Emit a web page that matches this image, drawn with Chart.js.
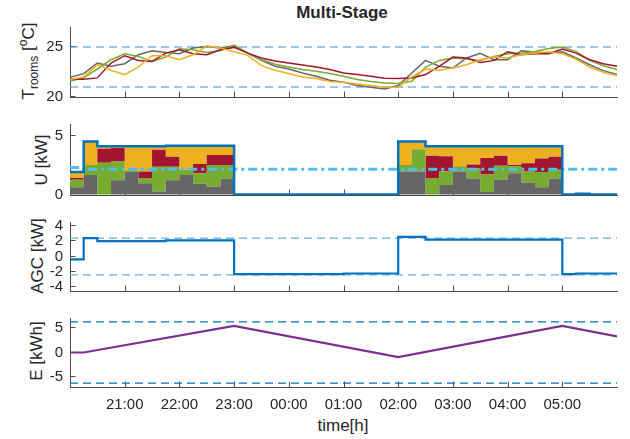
<!DOCTYPE html>
<html>
<head>
<meta charset="utf-8">
<script src="https://cdn.jsdelivr.net/npm/chart.js@4/dist/chart.umd.min.js"></script>
<style>
  html, body { margin: 0; padding: 0; background: #fff; }
  #fig { position: relative; width: 630px; height: 439px; overflow: hidden;
         font-family: "Liberation Sans", Arial, Helvetica, sans-serif; color: #262626; }
  .panel { position: absolute; left: 0; width: 630px; }
  .ylab { position: absolute; white-space: nowrap; font-size: 17px; line-height: 17px;
          transform: translate(-50%, -50%) rotate(-90deg); }
  .ylab sub, .ylab sup { font-size: 12px; line-height: 0; }
  .title { position: absolute; white-space: nowrap; font-weight: bold; font-size: 17px;
           line-height: 17px; transform: translate(-50%, -50%); }
  .xlab { position: absolute; white-space: nowrap; font-size: 17px; line-height: 17px;
          transform: translate(-50%, -50%); }
</style>
</head>
<body>
<div id="fig">
  <div class="title" style="left:342px; top:12px;">Multi-Stage</div>
  <div class="ylab" style="left:28px; top:61px;">T<sub>rooms</sub> [<sup>o</sup>C]</div>
  <div class="ylab" style="left:41px; top:160px;">U [kW]</div>
  <div class="ylab" style="left:37px; top:256px;">AGC [kW]</div>
  <div class="ylab" style="left:36px; top:351px;">E [kWh]</div>
  <div class="xlab" style="left:343px; top:425px;">time[h]</div>

  <div class="panel" style="top:22px; height:80px;"><canvas id="cTemp"></canvas></div>
  <div class="panel" style="top:119px; height:81px;"><canvas id="cU"></canvas></div>
  <div class="panel" style="top:217px; height:79px;"><canvas id="cAgc"></canvas></div>
  <div class="panel" style="top:313px; height:126px;"><canvas id="cE"></canvas></div>
</div>

<script>
// ---- time axis: hours after 20:00, one sample per 15 minutes ----
const hours = [0, 0.25, 0.5, 0.75, 1, 1.25, 1.5, 1.75, 2, 2.25, 2.5, 2.75, 3, 3.25, 3.5, 3.75,
               4, 4.25, 4.5, 4.75, 5, 5.25, 5.5, 5.75, 6, 6.25, 6.5, 6.75, 7, 7.25, 7.5, 7.75,
               8, 8.25, 8.5, 8.75, 9, 9.25, 9.5, 9.75, 10];
const hourTicks = [1, 2, 3, 4, 5, 6, 7, 8, 9];
const hourLabels = ['21:00', '22:00', '23:00', '00:00', '01:00', '02:00', '03:00', '04:00', '05:00'];

// ---- room temperatures [°C] ----
const tempGrey = [21.97, 22.34, 23.40, 23.07, 23.33, 24.23, 24.63, 24.46, 24.33, 24.89, 25.06, 24.89,
                  25.12, 24.39, 23.66, 23.07, 22.80, 22.40, 22.07, 21.67, 21.47, 21.14, 20.98, 20.81,
                  21.14, 22.40, 23.66, 23.07, 22.90, 23.90, 24.36, 23.73, 23.73, 24.63, 24.50, 24.40,
                  24.53, 23.90, 23.23, 22.64, 22.24];
const tempGreen = [21.57, 21.91, 22.80, 23.73, 24.33, 24.06, 23.56, 23.99, 24.82, 24.72, 24.46, 24.66,
                   25.19, 24.39, 23.73, 23.27, 23.00, 22.74, 22.57, 22.34, 22.07, 21.74, 21.54, 21.41,
                   21.34, 21.57, 23.00, 23.66, 23.90, 23.80, 23.66, 24.06, 24.33, 24.39, 24.56, 24.86,
                   24.99, 24.56, 23.66, 23.13, 22.74];
const tempRed = [21.81, 21.77, 21.91, 23.40, 24.13, 23.66, 23.56, 24.39, 24.72, 24.33, 24.23, 24.72,
                 24.96, 24.39, 23.90, 23.60, 23.40, 23.20, 23.00, 22.74, 22.40, 22.24, 22.07, 21.87,
                 21.84, 21.91, 22.24, 23.07, 23.99, 23.90, 23.46, 23.66, 24.53, 24.23, 24.33, 24.33,
                 24.79, 24.39, 23.73, 23.33, 23.07];
const tempYellow = [21.74, 22.01, 23.23, 22.67, 22.24, 23.00, 24.13, 24.13, 23.73, 24.23, 25.12, 24.89,
                    24.53, 24.16, 23.13, 22.67, 22.34, 22.00, 21.84, 21.54, 21.47, 21.31, 21.14, 20.98,
                    21.01, 22.00, 22.80, 22.67, 22.90, 23.23, 23.73, 23.99, 23.90, 24.23, 24.39, 24.53,
                    24.33, 23.80, 23.00, 22.47, 22.14];
const tempBounds = [21, 25];
const tempTicks = [20, 25];

// ---- heating power per room [kW], held over each 15-minute step ----
const uGrey = [0.6, 1.65, 0, 1.2, 1.9, 0.95, 0.25, 1.2, 1.65, 0.9, 0.65, 1.35,
               0, 0, 0, 0, 0, 0, 0, 0, 0, 0, 0, 0,
               1.95, 1.95, 0, 0.8, 1.95, 1.35, 0.2, 1.25, 1.8, 1.0, 0.6, 1.35,
               0, 0, 0, 0, 0];
const uGreen = [0.65, 0.85, 2.7, 1.6, 0.1, 0.45, 2.1, 1.15, 0.45, 0.9, 1.85, 1.15,
                0, 0, 0, 0, 0, 0, 0, 0, 0, 0, 0, 0,
                0.55, 1.9, 1.4, 1.15, 0.45, 0.85, 1.5, 1.2, 0.6, 0.95, 1.3, 0.75,
                0, 0, 0, 0, 0];
const uRed = [0.15, 0, 1.2, 1.15, 0, 0.55, 1.45, 0.85, 0, 0.8, 0.85, 0.85,
              0, 0, 0, 0, 0, 0, 0, 0, 0, 0, 0, 0,
              0, 0, 1.9, 1.3, 0, 0.35, 1.4, 0.85, 0.1, 0.7, 1.15, 1.1,
              0, 0, 0, 0, 0];
const uYellow = [0.5, 2.0, 0.2, 0.15, 2.1, 2.15, 0.3, 0.95, 2.05, 1.55, 0.8, 0.8,
                 0, 0, 0, 0, 0, 0, 0, 0, 0, 0, 0, 0,
                 2.0, 0.65, 0.8, 0.85, 1.7, 1.55, 1.0, 0.8, 1.6, 1.45, 1.05, 0.9,
                 0, 0, 0, 0, 0];
const uTotal = [1.9, 4.5, 4.1, 4.1, 4.1, 4.1, 4.1, 4.15, 4.15, 4.15, 4.15, 4.15,
                0, 0, 0, 0, 0, 0, 0, 0, 0, 0, 0, 0,
                4.5, 4.5, 4.1, 4.1, 4.1, 4.1, 4.1, 4.1, 4.1, 4.1, 4.1, 4.1,
                0, 0.05, 0, 0, 0];
const uBaseline = [2.3, 2.15, 2.15, 2.15, 2.15, 2.15, 2.15, 2.15, 2.15, 2.15, 2.15, 2.15,
                   2.15, 2.15, 2.15, 2.15, 2.15, 2.15, 2.15, 2.15, 2.15, 2.15, 2.15, 2.15,
                   2.15, 2.15, 2.15, 2.15, 2.15, 2.15, 2.15, 2.15, 2.15, 2.15, 2.15, 2.15,
                   2.15, 2.15, 2.15, 2.15, 2.15];
const uTicks = [0, 5];

// ---- AGC regulation signal [kW] ----
const agcHours = [0, 0.25, 0.5, 1.75, 3, 5, 6, 6.5, 9, 9.25, 10];
const agcValues = [-0.37, 2.4, 2.0, 2.1, -2.3, -2.22, 2.55, 2.2, -2.3, -2.22, -2.22];
const agcBounds = [-2.4, 2.4];
const agcTicks = [-4, -2, 0, 2, 4];

// ---- stored energy [kWh] ----
const eHours = [0, 0.25, 3, 6, 9, 10];
const eValues = [0, 0, 5.4, -0.95, 5.4, 3.25];
const eBounds = [-6.2, 6.2];
const eTicks = [-5, 0, 5];

// ---- styling ----
const AXIS = '#4d4d4d';
const TEXT = '#262626';
const FONT = '"Liberation Sans", Arial, Helvetica, sans-serif';
const TICK_LEN = 5.5;
const C = {
  blue: '#0072BD', lightBlue: '#4DBEEE', grey: '#666666', green: '#77AC30',
  red: '#A2142F', yellow: '#EDB120', purple: '#7E2F8E',
  limit: '#3d8fd0', limitLight: '#6aabdf'
};

// inward tick marks on the left and bottom axes
const innerTicks = {
  id: 'innerTicks',
  beforeDatasetsDraw(chart) {
    const { ctx, chartArea: a, scales: { x, y } } = chart;
    ctx.save();
    ctx.strokeStyle = AXIS;
    ctx.lineWidth = 1;
    ctx.beginPath();
    x.ticks.forEach(t => {
      const px = Math.round(x.getPixelForValue(t.value)) + 0.5;
      ctx.moveTo(px, a.bottom);
      ctx.lineTo(px, a.bottom - TICK_LEN);
    });
    y.ticks.forEach(t => {
      const py = Math.round(y.getPixelForValue(t.value)) - 0.5;
      ctx.moveTo(a.left, py);
      ctx.lineTo(a.left + TICK_LEN, py);
    });
    ctx.stroke();
    ctx.restore();
  }
};

function xy(xs, ys) { return xs.map((v, i) => ({ x: v, y: ys[i] })); }

function series(xs, ys, color, width, extra) {
  return Object.assign({ data: xy(xs, ys), borderColor: color, borderWidth: width,
                         pointRadius: 0, fill: false, tension: 0 }, extra || {});
}

function limitLine(v, color, dash) {
  return { data: [{ x: 0, y: v }, { x: 10, y: v }], borderColor: color, borderWidth: 1.2,
           borderDash: dash || [8, 5], pointRadius: 0, fill: false };
}

// keep every panel's plot area at a fixed place, whatever the label sizes
function noPadding(s) { s.paddingTop = 0; s.paddingBottom = 0; s.paddingLeft = 0; s.paddingRight = 0; }

function options(yMin, yMax, yTicks, showX) {
  return {
    responsive: true, maintainAspectRatio: false, animation: false,
    layout: { padding: { top: 5, right: 13, bottom: showX ? 0 : 5, left: 0 } },
    plugins: { legend: { display: false }, tooltip: { enabled: false }, title: { display: false } },
    scales: {
      x: {
        type: 'linear', min: 0, max: 10,
        afterBuildTicks: s => { s.ticks = hourTicks.map(v => ({ value: v })); },
        afterFit: s => { s.height = showX ? 52 : 0; noPadding(s); },
        grid: { display: false, drawTicks: false },
        border: { display: true, color: AXIS, width: 1 },
        ticks: {
          display: showX, autoSkip: false, maxRotation: 0, padding: 9, color: TEXT,
          font: { family: FONT, size: 15 },
          callback: v => hourLabels[hourTicks.indexOf(v)]
        }
      },
      y: {
        type: 'linear', min: yMin, max: yMax,
        afterBuildTicks: s => { s.ticks = yTicks.map(v => ({ value: v })); },
        afterFit: s => { s.width = 70; noPadding(s); },
        grid: { display: false, drawTicks: false },
        border: { display: true, color: AXIS, width: 1 },
        ticks: {
          autoSkip: false, padding: 7, color: TEXT,
          font: { family: FONT, size: 15 },
          callback: v => String(v)
        }
      }
    }
  };
}

// room temperatures with comfort band
new Chart(document.getElementById('cTemp'), {
  type: 'line',
  data: {
    datasets: [
      series(hours, tempYellow, C.yellow, 1.5),
      series(hours, tempRed, C.red, 1.5),
      series(hours, tempGreen, C.green, 1.5),
      series(hours, tempGrey, C.grey, 1.5),
      limitLine(tempBounds[0], C.limit),
      limitLine(tempBounds[1], C.limit)
    ]
  },
  options: options(20, 27, tempTicks, false),
  plugins: [innerTicks]
});

// stacked heating power per room
const uLayers = [uGrey, uGreen, uRed, uYellow];
const uColors = [C.grey, C.green, C.red, C.yellow];
let running = hours.map(() => 0);
const uAreas = uLayers.map((arr, j) => {
  running = running.map((s, i) => s + arr[i]);
  return { data: xy(hours, running), stepped: true, fill: j === 0 ? 'origin' : '-1',
           backgroundColor: uColors[j], borderWidth: 0, pointRadius: 0 };
});
new Chart(document.getElementById('cU'), {
  type: 'line',
  data: {
    datasets: [
      series(hours, uTotal, C.blue, 2.5, { stepped: true }),
      series(hours, uBaseline, C.lightBlue, 3, { stepped: true, borderDash: [9, 4, 3, 4] })
    ].concat(uAreas)
  },
  options: options(-0.05, 6, uTicks, false),
  plugins: [innerTicks]
});

// AGC signal with its limits
new Chart(document.getElementById('cAgc'), {
  type: 'line',
  data: {
    datasets: [
      series(agcHours, agcValues, C.blue, 2.2, { stepped: true }),
      limitLine(agcBounds[0], C.limitLight),
      limitLine(agcBounds[1], C.limitLight)
    ]
  },
  options: options(-4.5, 4.5, agcTicks, false),
  plugins: [innerTicks]
});

// storage energy with its limits
new Chart(document.getElementById('cE'), {
  type: 'line',
  data: {
    datasets: [
      series(eHours, eValues, C.purple, 2.2),
      limitLine(eBounds[0], C.blue),
      limitLine(eBounds[1], C.blue)
    ]
  },
  options: options(-7, 7, eTicks, true),
  plugins: [innerTicks]
});
</script>
</body>
</html>
